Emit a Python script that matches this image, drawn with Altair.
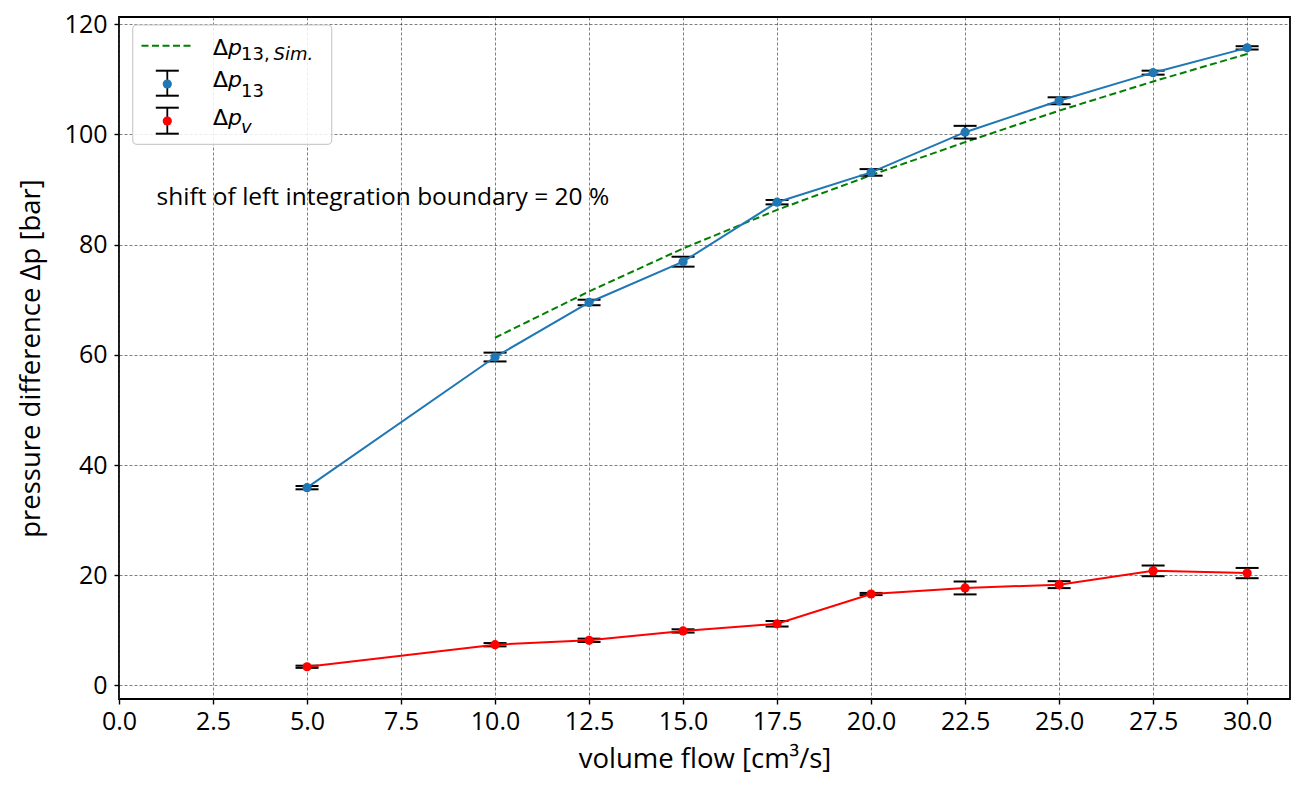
import altair as alt
import pandas as pd

# ---------------- data ----------------
flow = [5.0, 10.0, 12.5, 15.0, 17.5, 20.0, 22.5, 25.0, 27.5, 30.0]
dp13 = [35.9, 59.6, 69.5, 76.9, 87.7, 93.1, 100.4, 106.1, 111.2, 115.7]
dp13_err = [0.3, 0.8, 0.5, 0.9, 0.4, 0.6, 1.15, 0.63, 0.36, 0.3]
dpv = [3.4, 7.4, 8.2, 9.9, 11.2, 16.6, 17.7, 18.3, 20.8, 20.4]
dpv_err = [0.2, 0.3, 0.3, 0.3, 0.5, 0.2, 1.17, 0.63, 0.97, 0.93]
sim_flow = [10.0, 12.5, 15.0, 17.5, 20.0, 22.5, 25.0, 27.5, 30.0]
dp13_sim = [63.1, 71.5, 79.3, 86.3, 92.6, 98.6, 104.3, 109.6, 114.6]
x_ticks = [0.0, 2.5, 5.0, 7.5, 10.0, 12.5, 15.0, 17.5, 20.0, 22.5, 25.0, 27.5, 30.0]
y_ticks = [0, 20, 40, 60, 80, 100, 120]
annotation = ["shift of left integration boundary = 20 %"]
annotation_pos = [1.0, 88.4]

FONT = "Open Sans"
MATH = "DejaVu Sans"
BLUE = "#1f77b4"
RED = "#ff0000"
GREEN = "#008000"

df13 = pd.DataFrame({"x": flow, "y": dp13,
                     "lo": [v - e for v, e in zip(dp13, dp13_err)],
                     "hi": [v + e for v, e in zip(dp13, dp13_err)]})
dfv = pd.DataFrame({"x": flow, "y": dpv,
                    "lo": [v - e for v, e in zip(dpv, dpv_err)],
                    "hi": [v + e for v, e in zip(dpv, dpv_err)]})
dfsim = pd.DataFrame({"x": sim_flow, "y": dp13_sim})
dfann = pd.DataFrame({"x": [annotation_pos[0]], "y": [annotation_pos[1]], "t": annotation})
one = pd.DataFrame({"a": [0]})

xs = alt.Scale(domain=[0, 31.14], nice=False, zero=False, padding=0)
ys = alt.Scale(domain=[-2.45, 121.3], nice=False, zero=False, padding=0)
xaxis = alt.Axis(values=x_ticks, format=".1f", title="volume flow [cm³/s]", titlePadding=11,
                 labelFlush=False, labelOverlap=False)
yaxis = alt.Axis(values=y_ticks, format="d", title="pressure difference Δp [bar]", titlePadding=19,
                 labelFlush=False, labelOverlap=False)


def X(f="x"):
    return alt.X(f"{f}:Q", scale=xs, axis=xaxis)


def Y(f="y"):
    return alt.Y(f"{f}:Q", scale=ys, axis=yaxis)


def series(df, color):
    err = alt.Chart(df).mark_rule(color="black", strokeWidth=1.6).encode(x=X(), y=Y("lo"), y2="hi")
    cap_lo = alt.Chart(df).mark_tick(color="black", size=23, thickness=2, opacity=1,
                                     orient="horizontal").encode(x=X(), y=Y("lo"))
    cap_hi = alt.Chart(df).mark_tick(color="black", size=23, thickness=2, opacity=1,
                                     orient="horizontal").encode(x=X(), y=Y("hi"))
    line = alt.Chart(df).mark_line(color=color, strokeWidth=2).encode(x=X(), y=Y())
    pts = alt.Chart(df).mark_circle(color=color, size=85, opacity=1).encode(x=X(), y=Y())
    return [err, cap_lo, cap_hi, line, pts]


sim_line = alt.Chart(dfsim).mark_line(color=GREEN, strokeWidth=2, strokeDash=[7, 3.5]).encode(x=X(), y=Y())

ann = alt.Chart(dfann).mark_text(align="left", baseline="middle", font=FONT, fontSize=24.5, color="black").encode(
    x=X(), y=Y(), text="t:N")

# ---------------- legend (drawn by hand, pixel offsets inside the plot) ----------------
leg = []
leg.append(alt.Chart(one).mark_rect(fill="white", fillOpacity=0.85, stroke="#cccccc", strokeWidth=1.2,
                                     cornerRadius=4).encode(
    x=alt.value(13.7), x2=alt.value(212.7), y=alt.value(8.0), y2=alt.value(127.3)))
leg.append(alt.Chart(one).mark_rule(color=GREEN, strokeWidth=2, strokeDash=[7, 3.5]).encode(
    x=alt.value(22.5), x2=alt.value(73.5), y=alt.value(28.7)))
for cy, ytop, ybot, col in [(67.0, 53.7, 78.7, BLUE), (104.0, 90.7, 116.7, RED)]:
    leg.append(alt.Chart(one).mark_rule(color="black", strokeWidth=1.8).encode(
        x=alt.value(48.3), y=alt.value(ytop), y2=alt.value(ybot)))
    for yy in (ytop, ybot):
        leg.append(alt.Chart(one).mark_rule(color="black", strokeWidth=2).encode(
            x=alt.value(36.8), x2=alt.value(59.8), y=alt.value(yy)))
    leg.append(alt.Chart(one).mark_circle(color=col, size=85, opacity=1).encode(
        x=alt.value(48.3), y=alt.value(cy)))


def txt(s, x, y, size, style="normal"):
    return alt.Chart(one).mark_text(text=s, align="left", baseline="alphabetic", font=MATH,
                                    fontSize=size, fontStyle=style, color="black").encode(
        x=alt.value(x), y=alt.value(y))


for base, sub_base, subs in [(38.0, 43.0, [("13,", 122.0, "normal"), ("Sim.", 154.5, "italic")]),
                             (69.7, 79.7, [("13", 122.0, "normal")]),
                             (108.0, 116.3, [("v", 122.0, "italic")])]:
    leg.append(txt("Δ", 94.0, base, 22))
    leg.append(txt("p", 109.0, base, 22, "italic"))
    for s, sx, st in subs:
        leg.append(txt(s, sx, sub_base, 18, st))

layers = [sim_line] + series(df13, BLUE) + series(dfv, RED) + [ann] + leg

chart = alt.layer(*layers).properties(
    width=1171, height=682,
    padding={"left": 111, "top": 9, "right": 1, "bottom": 76},
    autosize=alt.AutoSizeParams(type="none"),
).configure_view(stroke="black", strokeWidth=1.8).configure_axis(
    domain=False, ticks=True, tickColor="black", tickSize=5, tickWidth=1.4,
    labelFont=FONT, labelFontSize=25, labelColor="black", labelPadding=5,
    titleFont=FONT, titleFontSize=27.5, titleFontWeight="normal", titleColor="black",
    grid=True, gridColor="#333333", gridDash=[3, 2], gridWidth=0.7, gridOpacity=0.9,
).configure_axisY(labelPadding=7)

chart.save("out.html", embed_options={"renderer": "svg", "actions": False})
